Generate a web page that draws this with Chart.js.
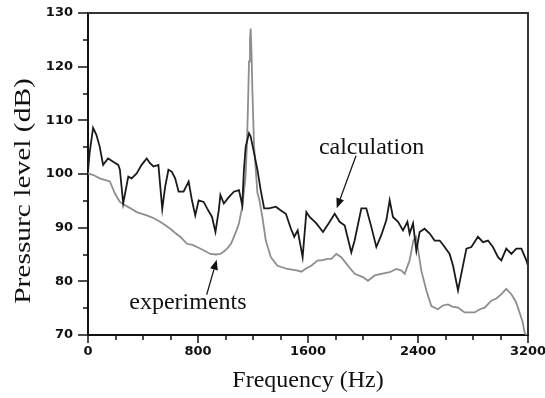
<!DOCTYPE html>
<html><head><meta charset="utf-8">
<script src="https://cdn.jsdelivr.net/npm/chart.js@4.4.1/dist/chart.umd.min.js"></script>
<style>html,body{margin:0;padding:0;background:#fff;}#wrap{width:545px;height:398px;position:relative;}</style>
</head><body><div id="wrap"><canvas id="c" width="545" height="398"></canvas></div>
<script>
// ---- data ----
const calcFreq = [0,12,37,61,85,110,146,183,220,232,256,293,317,354,390,427,451,476,512,540,561,585,610,634,659,695,732,756,780,805,841,866,902,927,951,963,988,1024,1061,1098,1122,1134,1147,1171,1183,1208,1232,1256,1281,1317,1366,1403,1439,1476,1500,1525,1561,1588,1612,1661,1709,1758,1794,1830,1867,1915,1939,1988,2024,2061,2097,2133,2170,2194,2218,2255,2291,2323,2339,2364,2388,2412,2448,2485,2521,2558,2594,2630,2655,2691,2715,2752,2788,2836,2873,2909,2945,2982,3006,3042,3079,3115,3152,3188,3200];
const calcLevel = [100.5,104.0,108.6,107.3,105.1,101.7,102.9,102.3,101.7,100.8,94.5,99.5,99.2,100.1,101.7,102.9,102.0,101.4,101.7,93.5,97.6,100.8,100.4,99.2,96.7,96.7,98.6,95.1,92.3,95.1,94.8,93.6,92.0,89.2,93.2,96.1,94.5,95.7,96.7,97.0,94.2,100.8,105.1,107.6,107.0,103.9,100.8,97.0,93.6,93.6,93.9,93.2,92.6,89.8,88.3,89.5,84.5,92.9,92.0,90.8,89.2,91.1,92.6,91.1,90.4,85.4,87.6,93.6,93.6,90.1,86.4,88.6,91.4,95.1,92.0,91.1,89.5,91.1,88.9,90.8,85.7,89.2,89.8,88.9,87.6,87.6,86.4,85.1,82.9,78.3,81.4,86.1,86.4,88.3,87.3,87.6,86.4,84.5,83.9,86.1,85.1,86.1,86.1,83.9,82.9];
const expFreq = [0,40,85,159,195,232,268,310,354,427,475,524,560,598,635,671,720,760,793,840,890,930,963,990,1012,1040,1061,1080,1098,1122,1146,1155,1163,1171,1178,1183,1190,1195,1202,1208,1220,1232,1244,1268,1293,1330,1378,1451,1525,1552,1580,1624,1671,1697,1744,1770,1806,1842,1879,1891,1939,2000,2036,2085,2133,2194,2242,2280,2303,2339,2366,2385,2400,2424,2461,2497,2545,2580,2618,2650,2691,2739,2812,2850,2885,2933,2970,3006,3042,3079,3110,3127,3160,3176,3200];
const expLevel = [100.1,99.8,99.2,98.6,96.4,94.8,94.2,93.6,92.9,92.3,91.8,91.1,90.5,89.8,89.0,88.3,87.0,86.8,86.4,85.8,85.1,85.0,85.1,85.6,86.1,87.0,88.3,89.5,90.8,93.9,99.5,105,112,121,125,127.1,122,116,110,105,100.8,96.5,95.5,92.0,87.6,84.5,82.9,82.3,82.0,81.8,82.3,82.9,83.9,83.9,84.2,84.2,85.1,84.5,83.3,82.9,81.4,80.8,80.1,81.1,81.4,81.7,82.3,82.0,81.4,83.9,87.6,88.3,86.0,82.0,78.3,75.4,74.8,75.5,75.7,75.3,75.1,74.2,74.2,74.8,75.1,76.4,76.8,77.6,78.6,77.6,76.3,75.1,72.5,70.4,69.5];
const xTickLabels = ['0','800','1600','2400','3200'];
const yTickLabels = ['70','80','90','100','110','120','130'];
const seriesNames = ['calculation','experiments'];
const xTitle = 'Frequency (Hz)';
const yTitle = 'Pressurc level (dB)';

// annotation anchors in data units
const notes = [
  {text: seriesNames[0], tx: 2062, ty: 103.7, fx: 1949, fy: 103.4, hx: 1809, hy: 93.6},
  {text: seriesNames[1], tx: 727, ty: 74.8, fx: 863, fy: 77.5, hx: 936, hy: 84.0}
];

const toPts = (xs, ys) => xs.map((x, i) => ({x: x, y: ys[i]}));

const decor = {
  id: 'decor',
  afterDraw(chart) {
    const {ctx, chartArea: a, scales: {x, y}} = chart;
    ctx.save();
    // frame top/right
    ctx.strokeStyle = '#333'; ctx.lineWidth = 2;
    ctx.beginPath();
    ctx.moveTo(a.left, a.top); ctx.lineTo(a.right, a.top); ctx.lineTo(a.right, a.bottom);
    ctx.stroke();
    // ticks
    ctx.strokeStyle = '#111'; ctx.lineWidth = 1.5;
    x.ticks.forEach(t => {
      const p = Math.round(x.getPixelForValue(t.value));
      const len = xTickLabels.includes(String(t.value)) ? 8 : 5;
      ctx.beginPath(); ctx.moveTo(p, a.bottom); ctx.lineTo(p, a.bottom + len); ctx.stroke();
    });
    y.ticks.forEach(t => {
      const p = Math.round(y.getPixelForValue(t.value));
      const len = yTickLabels.includes(String(t.value)) ? 10 : 5;
      ctx.beginPath(); ctx.moveTo(a.left - len, p); ctx.lineTo(a.left, p); ctx.stroke();
    });
    // y title (stretched along its length)
    ctx.fillStyle = '#111';
    ctx.font = '23px "Liberation Serif"';
    ctx.textAlign = 'center'; ctx.textBaseline = 'middle';
    ctx.save();
    ctx.translate(24, 191); ctx.rotate(-Math.PI / 2); ctx.scale(1.28, 1);
    ctx.fillText(yTitle, 0, 0);
    ctx.restore();
    // annotations
    ctx.font = '24px "Liberation Serif"';
    ctx.textBaseline = 'alphabetic';
    notes.forEach(n => {
      const tx = x.getPixelForValue(n.tx), ty = y.getPixelForValue(n.ty);
      ctx.fillText(n.text, tx, ty);
      const fx = x.getPixelForValue(n.fx), fy = y.getPixelForValue(n.fy);
      const hx = x.getPixelForValue(n.hx), hy = y.getPixelForValue(n.hy);
      const ang = Math.atan2(hy - fy, hx - fx);
      const L = 10, W = 4;
      const bx = hx - L * Math.cos(ang), by = hy - L * Math.sin(ang);
      ctx.strokeStyle = '#111'; ctx.lineWidth = 1.2;
      ctx.beginPath(); ctx.moveTo(fx, fy); ctx.lineTo(bx, by); ctx.stroke();
      ctx.beginPath();
      ctx.moveTo(hx, hy);
      ctx.lineTo(bx + W * Math.sin(ang), by - W * Math.cos(ang));
      ctx.lineTo(bx - W * Math.sin(ang), by + W * Math.cos(ang));
      ctx.closePath(); ctx.fill();
    });
    ctx.restore();
  }
};

new Chart(document.getElementById('c'), {
  type: 'line',
  data: {
    datasets: [
      {label: seriesNames[0], data: toPts(calcFreq, calcLevel), borderColor: '#1a1a1a', borderWidth: 1.8, pointRadius: 0, tension: 0, fill: false},
      {label: seriesNames[1], data: toPts(expFreq, expLevel), borderColor: '#8e8e8e', borderWidth: 1.8, pointRadius: 0, tension: 0, fill: false}
    ]
  },
  options: {
    responsive: false, animation: false, devicePixelRatio: 1,
    layout: {padding: {top: 13, right: 17, left: 0, bottom: 0}},
    plugins: {legend: {display: false}, tooltip: {enabled: false}},
    scales: {
      x: {
        type: 'linear', min: 0, max: 3200,
        border: {display: true, color: '#111', width: 2},
        grid: {drawOnChartArea: false, drawTicks: true, tickLength: 8, tickColor: 'rgba(0,0,0,0)'},
        ticks: {stepSize: 200, autoSkip: false, maxRotation: 0, padding: 1, color: '#111',
          font: {family: '"DejaVu Sans"', weight: 'bold', size: 13},
          callback: v => xTickLabels.includes(String(v)) ? String(v) : ''},
        title: {display: true, text: xTitle, color: '#111', font: {family: '"Liberation Serif"', size: 24}, padding: {top: 0, bottom: 3}},
        afterFit: s => { s.height = 63; s.paddingLeft = 0; s.paddingRight = 0; }
      },
      y: {
        min: 70, max: 130,
        border: {display: true, color: '#111', width: 2},
        grid: {drawOnChartArea: false, drawTicks: true, tickLength: 10, tickColor: 'rgba(0,0,0,0)'},
        ticks: {stepSize: 5, autoSkip: false, padding: 5, color: '#111',
          font: {family: '"DejaVu Sans"', weight: 'bold', size: 13},
          callback: v => yTickLabels.includes(String(v)) ? String(v) : ''},
        afterFit: s => { s.width = 88; s.paddingTop = 0; s.paddingBottom = 0; }
      }
    }
  },
  plugins: [decor]
});
</script></body></html>
